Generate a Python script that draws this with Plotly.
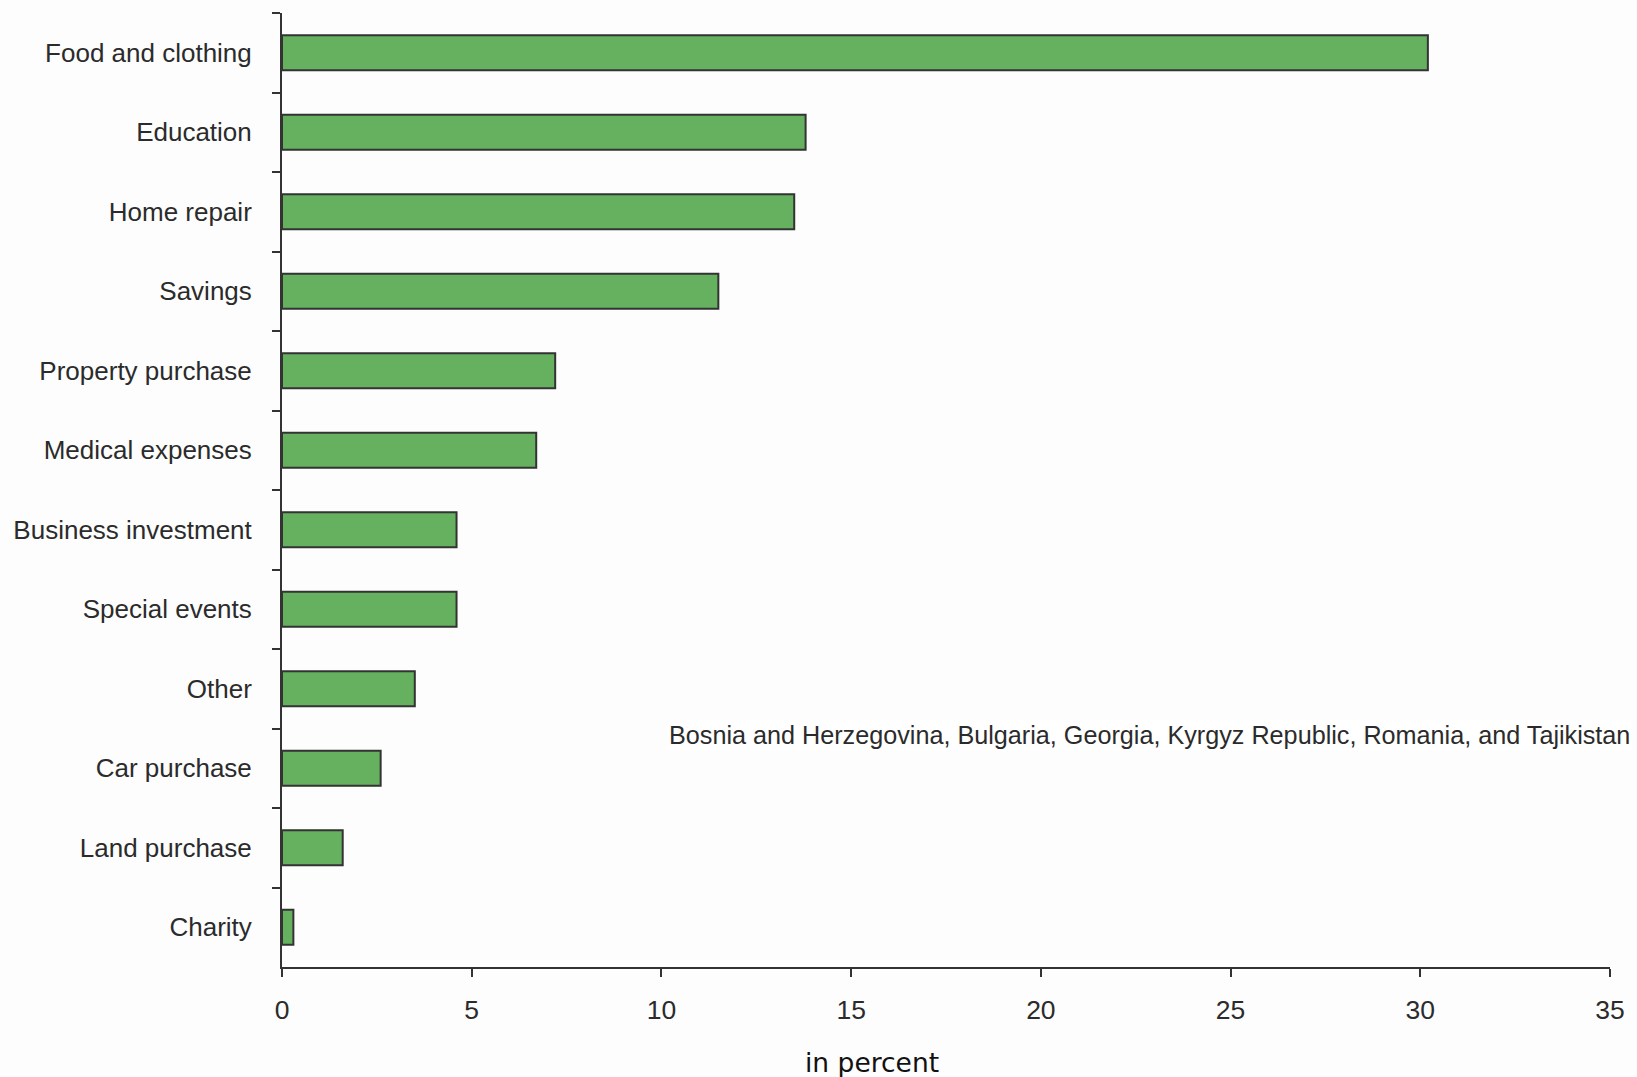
import plotly.graph_objects as go

# Uses of remittances (share of households, %)
categories = [
    "Food and clothing",
    "Education",
    "Home repair",
    "Savings",
    "Property purchase",
    "Medical expenses",
    "Business investment",
    "Special events",
    "Other",
    "Car purchase",
    "Land purchase",
    "Charity",
]
shares = [30.2, 13.8, 13.5, 11.5, 7.2, 6.7, 4.6, 4.6, 3.5, 2.6, 1.6, 0.3]
x_ticks = [0, 5, 10, 15, 20, 25, 30, 35]

countries_note = ("Bosnia and Herzegovina, Bulgaria, Georgia, Kyrgyz Republic, "
                  "Romania, and Tajikistan")
x_title = "in percent"

label_font = "Liberation Sans, Arial, sans-serif"
ink = "#2b2b2b"

fig = go.Figure(
    go.Bar(
        x=shares,
        y=categories,
        orientation="h",
        width=0.44,
        marker=dict(color="#65b15f", line=dict(color="#333333", width=2)),
        hoverinfo="x+y",
    )
)

fig.update_layout(
    width=1637,
    height=1077,
    margin=dict(l=282, r=27, t=13, b=110),
    paper_bgcolor="#fdfdfd",
    plot_bgcolor="#fdfdfd",
    showlegend=False,
    font=dict(family=label_font, color=ink),
)

fig.update_xaxes(
    range=[0, 35],
    tickvals=x_ticks,
    ticktext=[str(v) for v in x_ticks],
    showgrid=False,
    zeroline=False,
    showline=True,
    linecolor="#333333",
    linewidth=2,
    ticks="outside",
    ticklen=8,
    tickwidth=2,
    tickcolor="#333333",
    tickfont=dict(family=label_font, size=26.5, color=ink),
    ticklabelstandoff=10,
    automargin=False,
)

fig.update_yaxes(
    type="category",
    categoryorder="array",
    categoryarray=categories,
    autorange="reversed",
    range=[11.5, -0.5],
    showgrid=False,
    zeroline=False,
    showline=True,
    linecolor="#333333",
    linewidth=2,
    ticks="outside",
    tickson="boundaries",
    ticklen=8,
    tickwidth=2,
    tickcolor="#333333",
    tickfont=dict(family=label_font, size=26, color=ink),
    ticklabelstandoff=23,
    automargin=False,
)

fig.add_annotation(
    text=countries_note,
    xref="paper", yref="paper",
    x=0.2900, y=0.243,
    xanchor="left", yanchor="middle",
    showarrow=False,
    bgcolor="#ffffff",
    font=dict(family=label_font, size=25.2, color=ink),
)

fig.add_annotation(
    text=x_title,
    xref="paper", yref="paper",
    x=0.444, y=-0.1,
    xanchor="center", yanchor="middle",
    showarrow=False,
    font=dict(family="DejaVu Sans, Verdana, sans-serif", size=26.5, color="#111111"),
)

fig.write_html("out.html")
